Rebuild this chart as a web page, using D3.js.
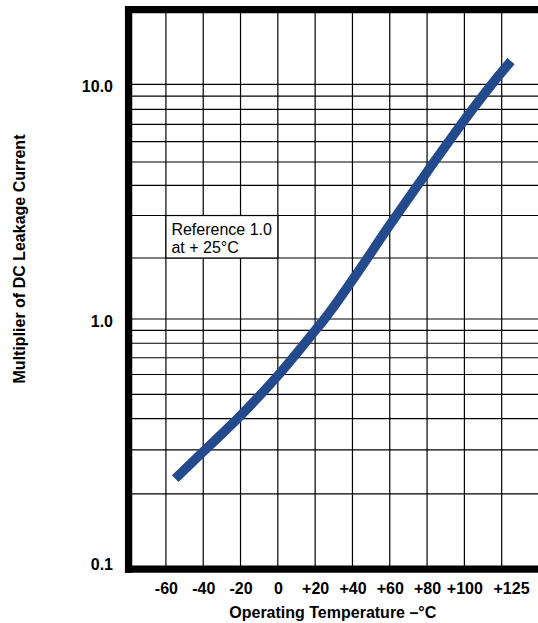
<!DOCTYPE html>
<html>
<head>
<meta charset="utf-8">
<script src="https://cdn.jsdelivr.net/npm/d3@7"></script>
<style>
  html, body { margin: 0; padding: 0; background: #fff; }
  svg { display: block; font-family: "Liberation Sans", Arial, Helvetica, sans-serif; }
</style>
</head>
<body>
<svg id="chart" width="538" height="623"></svg>
<script>
// ---- data ----
const temps  = [-55, -40, -20, 0, 20, 25, 40, 60, 80, 100, 120, 125];
const multipliers = [0.230, 0.295, 0.411, 0.594, 0.899, 1.0, 1.557, 2.74, 4.55, 7.27, 11.2, 12.4];

const xTickValues = [-60, -40, -20, 0, 20, 40, 60, 80, 100, 125];
const xTickLabels = ["-60", "-40", "-20", "0", "+20", "+40", "+60", "+80", "+100", "+125"];
const xGridValues = [-60, -40, -20, 0, 20, 40, 60, 80, 100, 120];

const yTickValues = [0.1, 1, 10];
const yTickLabels = ["0.1", "1.0", "10.0"];
const yGridValues = [0.2, 0.3, 0.4, 0.5, 0.6, 0.7, 0.8, 0.9, 1, 2, 3, 4, 5, 6, 7, 8, 9, 10];

const noteLines = ["Reference 1.0", "at + 25°C"];
const xTitle = "Operating Temperature –°C";
const yTitle = "Multiplier of DC Leakage Current";

// ---- layout ----
const svg = d3.select("#chart");
const W = 538, H = 623;

const x = d3.scaleLinear().domain([-80, 140]).range([128.6, 539]);
// piecewise log scale (the printed grid is slightly uneven in the upper decade)
const y = d3.scaleLog()
  .domain([0.1, 1, 2, 5, 10, 20])
  .range([569.2, 319, 258, 162, 84.3, 9.7]);

const x0 = x(-80), x1 = W + 5;
const yTop = y(20), yBot = y(0.1);

// grid
const gridG = svg.append("g");
gridG.selectAll("line.v").data(xGridValues).join("line")
  .attr("class", "v")
  .attr("x1", d => x(d)).attr("x2", d => x(d))
  .attr("y1", yTop).attr("y2", yBot)
  .attr("stroke", "#000").attr("stroke-width", 1.2);
gridG.selectAll("line.h").data(yGridValues).join("line")
  .attr("class", "h")
  .attr("x1", x0).attr("x2", x1)
  .attr("y1", d => y(d)).attr("y2", d => y(d))
  .attr("stroke", "#000").attr("stroke-width", 1.2);

// note box occupying a grid cell
const bx0 = x(-60), bx1 = x(0), by0 = y(3), by1 = y(2);
svg.append("rect")
  .attr("x", bx0).attr("y", by0)
  .attr("width", bx1 - bx0).attr("height", by1 - by0)
  .attr("fill", "#fff").attr("stroke", "#000").attr("stroke-width", 1.2);
svg.append("g").selectAll("text").data(noteLines).join("text")
  .attr("x", bx0 + 5.5)
  .attr("y", (d, i) => by0 + 19 + i * 18.5)
  .attr("font-size", 16)
  .attr("fill", "#000")
  .text(d => d);

// curve
const line = d3.line()
  .x(d => x(d[0]))
  .y(d => y(d[1]))
  .curve(d3.curveMonotoneX);
svg.append("path")
  .datum(temps.map((t, i) => [t, multipliers[i]]))
  .attr("d", line)
  .attr("fill", "none")
  .attr("stroke", "#244a8e")
  .attr("stroke-width", 9.5)
  .attr("stroke-linecap", "butt");

// frame (left, top, bottom)
const bw = 7.3;
svg.append("line").attr("x1", x0).attr("x2", x0).attr("y1", yTop - bw/2).attr("y2", yBot + bw/2)
  .attr("stroke", "#000").attr("stroke-width", bw);
svg.append("line").attr("x1", x0 - bw/2).attr("x2", x1).attr("y1", yTop).attr("y2", yTop)
  .attr("stroke", "#000").attr("stroke-width", bw);
svg.append("line").attr("x1", x0 - bw/2).attr("x2", x1).attr("y1", yBot).attr("y2", yBot)
  .attr("stroke", "#000").attr("stroke-width", bw);

// x axis labels
const xAxis = d3.axisBottom(x)
  .tickValues(xTickValues)
  .tickFormat((d, i) => xTickLabels[i])
  .tickSize(0).tickPadding(13.5);
const gx = svg.append("g").attr("transform", `translate(0,${yBot})`).call(xAxis);
gx.select(".domain").remove();
gx.selectAll("text").attr("font-size", 16).attr("font-weight", "bold").attr("fill", "#000")
  .attr("font-family", "'Liberation Sans', Arial, sans-serif");

// y axis labels
const yAxis = d3.axisLeft(y)
  .tickValues(yTickValues)
  .tickFormat((d, i) => yTickLabels[i])
  .tickSize(0).tickPadding(0);
const gy = svg.append("g").attr("transform", `translate(113,0)`).call(yAxis);
gy.select(".domain").remove();
gy.selectAll("text").attr("font-size", 16).attr("font-weight", "bold").attr("fill", "#000")
  .attr("font-family", "'Liberation Sans', Arial, sans-serif")
  .attr("dy", "0.45em");
gy.selectAll(".tick").filter(d => d === 0.1).select("text").attr("dy", "0.02em");

// axis titles
svg.append("text")
  .attr("x", (x0 + 539) / 2 - 1).attr("y", 617.5)
  .attr("text-anchor", "middle")
  .attr("font-size", 16).attr("font-weight", "bold").attr("fill", "#000")
  .text(xTitle);
svg.append("text")
  .attr("transform", `translate(25,259) rotate(-90)`)
  .attr("text-anchor", "middle")
  .attr("font-size", 16).attr("font-weight", "bold").attr("fill", "#000")
  .text(yTitle);
</script>
</body>
</html>
